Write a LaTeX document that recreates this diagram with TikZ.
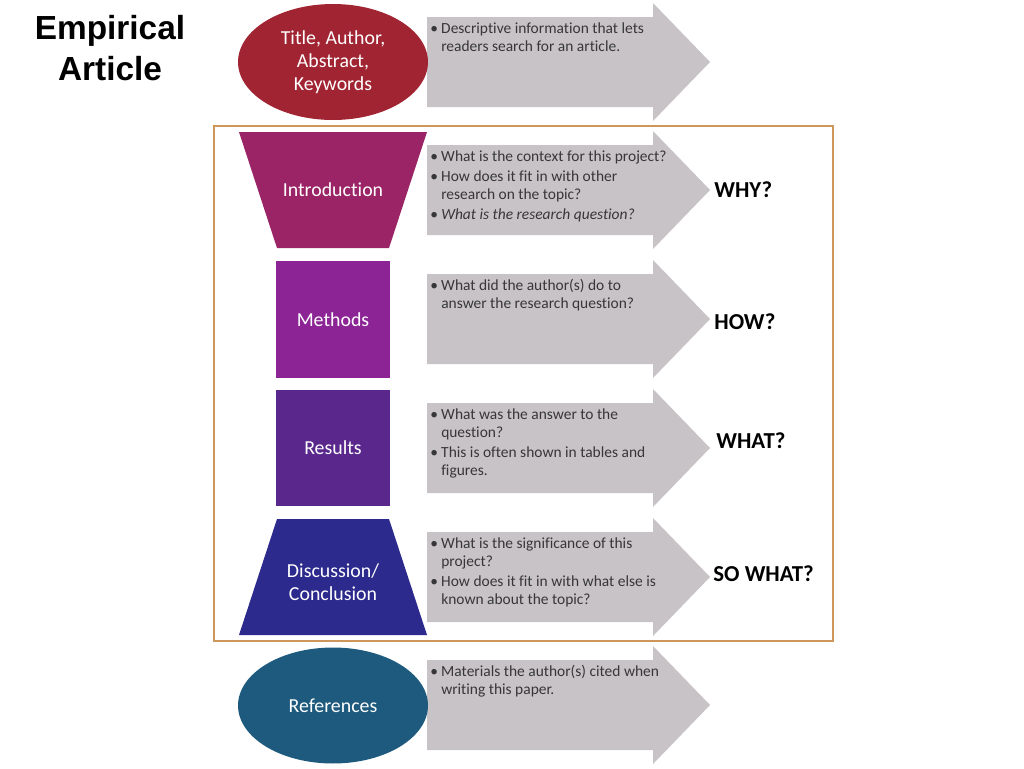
\documentclass[tikz,border=0pt]{standalone}
\usepackage{fontspec}
\setmainfont{Carlito}[Ligatures=NoCommon]
\newfontfamily\headfont{Liberation Sans}
\usetikzlibrary{shapes.geometric}

\definecolor{titlered}{RGB}{161,36,50}
\definecolor{intromag}{RGB}{154,36,102}
\definecolor{methpurple}{RGB}{140,36,150}
\definecolor{respurple}{RGB}{90,40,140}
\definecolor{discblue}{RGB}{44,42,140}
\definecolor{refteal}{RGB}{30,90,125}
\definecolor{shaftgrey}{RGB}{200,195,199}
\definecolor{framebrown}{RGB}{205,150,90}
\definecolor{infotext}{RGB}{55,55,55}

\newcommand\bul{\makebox[6.2pt][l]{\textbullet}}

\begin{document}
\begin{tikzpicture}[x=0.02cm,y=-0.02cm,
    every node/.style={inner sep=0pt},
    part/.style={text=white,font=\fontsize{11.3}{13}\selectfont,align=center},
    blob/.style={ellipse,minimum width=3.8cm,minimum height=2.32cm},
    block/.style={minimum width=2.28cm,minimum height=2.33cm},
    info/.style={anchor=north west,text=infotext,font=\fontsize{8.8}{10.2}\selectfont,align=left},
    tag/.style={anchor=west,font=\fontsize{13}{15}\selectfont\bfseries}]

  \useasboundingbox[fill=white] (0,0) rectangle (1024,768);

  \node[font=\headfont\bfseries\fontsize{19}{23.8}\selectfont,align=center] (title) at (110,48) {Empirical\\Article};

  % grey arrows
  \foreach \y in {62,190,319,448,577,705}
    \fill[shaftgrey] (427,\y-45) -- (653,\y-45) -- (653,\y-59) -- (710,\y)
      -- (653,\y+59) -- (653,\y+45) -- (427,\y+45) -- cycle;

  \draw[framebrown,line width=1.1pt] (214,126) rectangle (833,641);

  % parts of the article
  \node[part,blob,fill=titlered] (head) at (333,62) {Title, Author,\\Abstract,\\Keywords};

  \fill[intromag] (239,132) -- (427,132) -- (389,248) -- (277,248) -- cycle;
  \node[part] (intro) at (333,190) {Introduction};

  \node[part,block,fill=methpurple] (meth) at (333,319.5) {Methods};
  \node[part,block,fill=respurple] (res) at (333,448) {Results};

  \fill[discblue] (277,519) -- (389,519) -- (427,635) -- (239,635) -- cycle;
  \node[part] (disc) at (333,582) {Discussion/\\Conclusion};

  \node[part,blob,fill=refteal] (refs) at (333,705.5) {References};

  % bullet texts
  \node[info] (headinfo) at (430,21) {\begin{tabular}{@{}l@{}l@{}}
    \bul & Descriptive information that lets\\
    & readers search for an article.\end{tabular}};
  \node[info] (introinfo) at (430,149) {\begin{tabular}{@{}l@{}l@{}}
    \bul & What is the context for this project?\\[1.1pt]
    \bul & How does it fit in with other\\
    & research on the topic?\\[1.1pt]
    \bul & \itshape What is the research question?\end{tabular}};
  \node[info] (methinfo) at (430,278) {\begin{tabular}{@{}l@{}l@{}}
    \bul & What did the author(s) do to\\
    & answer the research question?\end{tabular}};
  \node[info] (resinfo) at (430,407) {\begin{tabular}{@{}l@{}l@{}}
    \bul & What was the answer to the\\
    & question?\\[1.1pt]
    \bul & This is often shown in tables and\\
    & figures.\end{tabular}};
  \node[info] (discinfo) at (430,536) {\begin{tabular}{@{}l@{}l@{}}
    \bul & What is the significance of this\\
    & project?\\[1.1pt]
    \bul & How does it fit in with what else is\\
    & known about the topic?\end{tabular}};
  \node[info] (refsinfo) at (430,664) {\begin{tabular}{@{}l@{}l@{}}
    \bul & Materials the author(s) cited when\\
    & writing this paper.\end{tabular}};

  % questions
  \node[tag] (why) at (714,190) {WHY?};
  \node[tag] (how) at (714,322) {HOW?};
  \node[tag] (what) at (716,441) {WHAT?};
  \node[tag] (sowhat) at (713,574) {SO WHAT?};
\end{tikzpicture}
\end{document}
